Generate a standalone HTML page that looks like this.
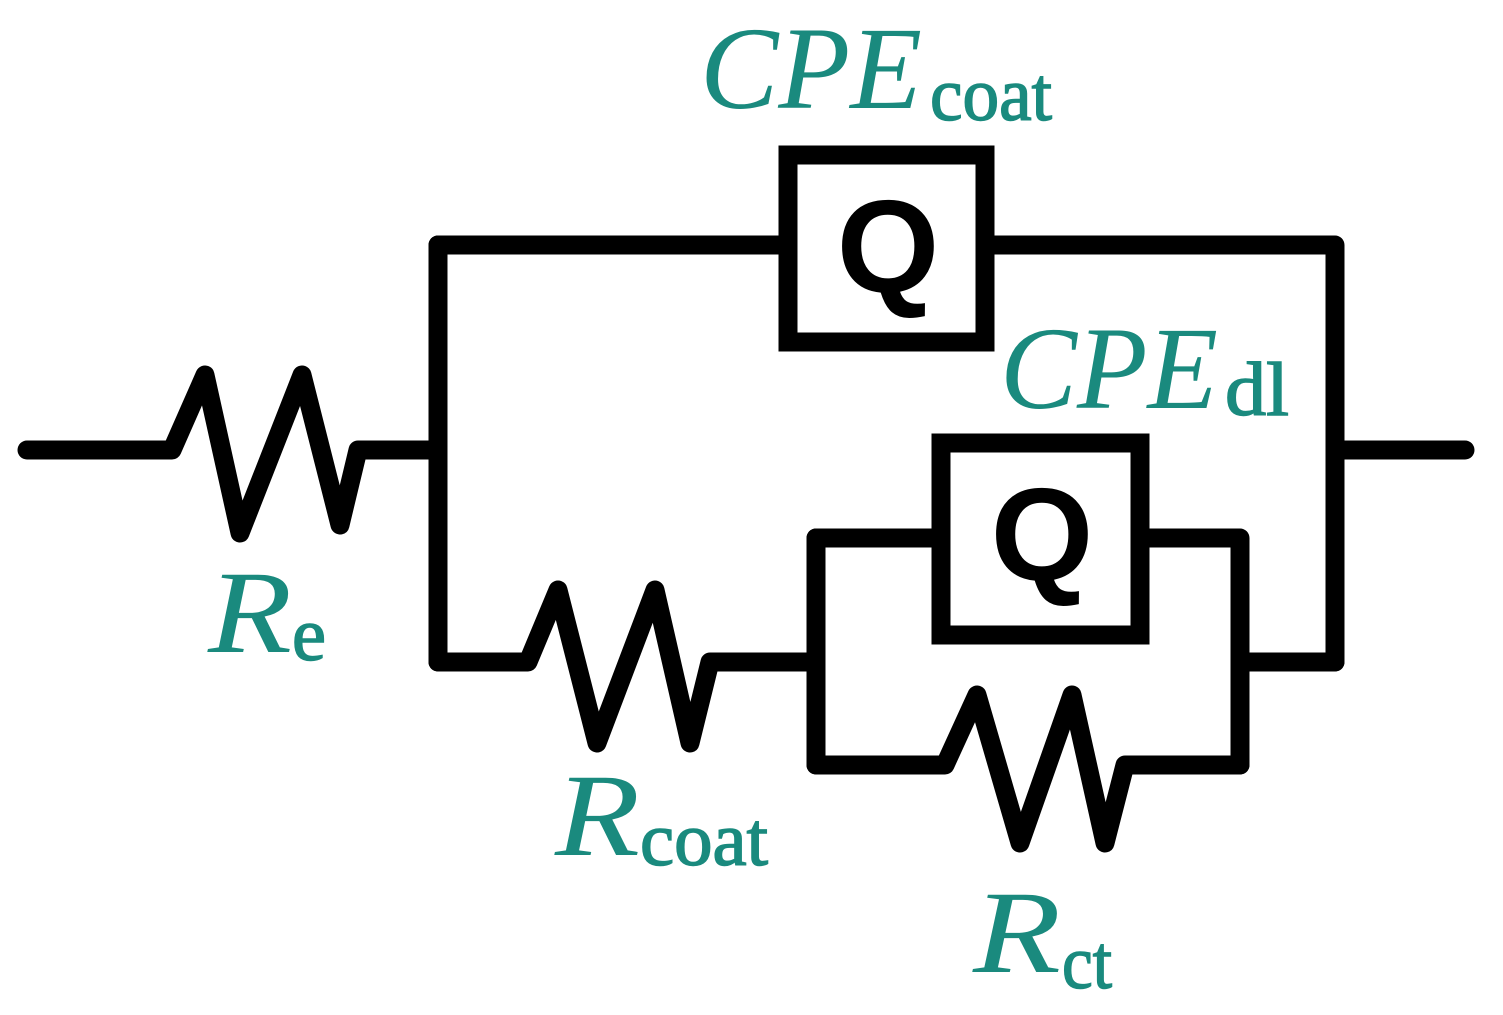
<!DOCTYPE html>
<html><head><meta charset="utf-8"><style>
html,body{margin:0;padding:0;background:#fff;}
svg{display:block;}
.t{font-family:"Liberation Serif",serif;fill:#1a8a7e;}
.i{font-style:italic;}
.s{stroke:#1a8a7e;stroke-width:1.5;}
</style></head><body>
<svg width="1503" height="1015" viewBox="0 0 1503 1015" xmlns="http://www.w3.org/2000/svg">
<g fill="none" stroke="#000" stroke-width="19" stroke-linejoin="round" stroke-linecap="round">
<path d="M27 450 H172 L205 375 L240 533 L302 375 L340 525 L358 450 H435"/>
<path d="M438 245 V662"/>
<path d="M438 245 H788"/>
<path d="M985 245 H1335 V662"/>
<path d="M1335 450 H1465"/>
<path d="M438 662 H528 L558 590 L597 743 L655 590 L690 743 L710 662 H813"/>
<path d="M816 538 V765"/>
<path d="M816 538 H941"/>
<path d="M1140 538 H1240 V765"/>
<path d="M1240 662 H1335"/>
<path d="M816 765 H945 L977 695 L1020 843 L1072 695 L1105 843 L1125 765 H1240"/>
</g>
<g fill="none" stroke="#000" stroke-width="19" stroke-linejoin="miter">
<rect x="788" y="155" width="197" height="187"/>
<rect x="941" y="443" width="199" height="192"/>
</g>
<text x="888" y="292" text-anchor="middle" font-family="Liberation Sans,sans-serif" font-weight="bold" font-size="132">Q</text>
<text x="1042" y="580" text-anchor="middle" font-family="Liberation Sans,sans-serif" font-weight="bold" font-size="132">Q</text>
<text class="t i" x="700" y="108" font-size="118" textLength="222" lengthAdjust="spacingAndGlyphs">CPE</text>
<text class="t s" x="930" y="120" font-size="76" textLength="122" lengthAdjust="spacingAndGlyphs">coat</text>
<text class="t i" x="1000" y="408" font-size="118" textLength="218" lengthAdjust="spacingAndGlyphs">CPE</text>
<text class="t s" x="1225" y="415" font-size="76" textLength="64" lengthAdjust="spacingAndGlyphs">dl</text>
<text class="t i" x="208" y="652" font-size="118" textLength="84" lengthAdjust="spacingAndGlyphs">R</text>
<text class="t s" x="292" y="660" font-size="76" textLength="34" lengthAdjust="spacingAndGlyphs">e</text>
<text class="t i" x="555" y="855" font-size="118" textLength="85" lengthAdjust="spacingAndGlyphs">R</text>
<text class="t s" x="640" y="865" font-size="76" textLength="128" lengthAdjust="spacingAndGlyphs">coat</text>
<text class="t i" x="973" y="972" font-size="118" textLength="88" lengthAdjust="spacingAndGlyphs">R</text>
<text class="t s" x="1062" y="988" font-size="76" textLength="50" lengthAdjust="spacingAndGlyphs">ct</text>
</svg>
</body></html>
